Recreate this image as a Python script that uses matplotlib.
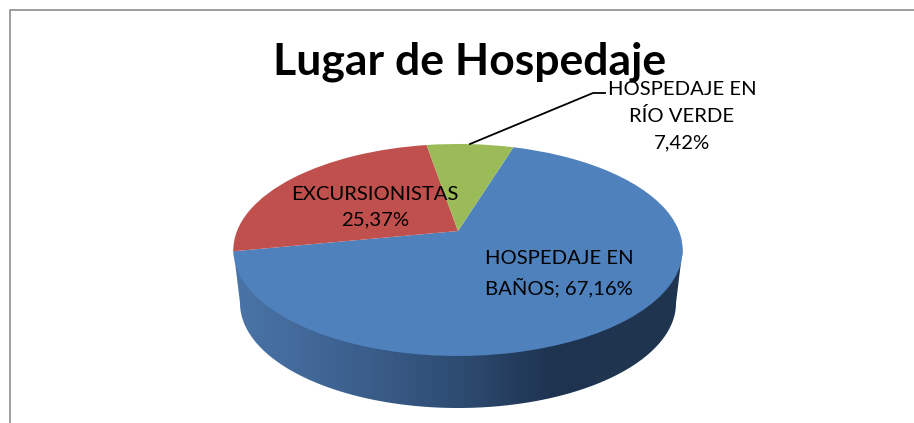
"""Lugar de Hospedaje: pie with a fake 3D look."""

import matplotlib

matplotlib.use("Agg")

import matplotlib.pyplot as plt
import numpy as np
from matplotlib.colors import LinearSegmentedColormap
from matplotlib.patches import Polygon
from matplotlib.transforms import Transform

TITLE = "Lugar de Hospedaje"
CATEGORIES = ["HOSPEDAJE EN BAÑOS", "EXCURSIONISTAS", "HOSPEDAJE EN RÍO VERDE"]
SHARES = [67.16, 25.37, 7.42]
LABELS = [
    "HOSPEDAJE EN\nBAÑOS; 67,16%",
    "EXCURSIONISTAS\n25,37%",
    "HOSPEDAJE EN\nRÍO VERDE\n7,42%",
]
COLORS = ["#4f81bd", "#c0504d", "#9bbb59"]


class TiltTransform(Transform):
    """Unit circle to pixel coordinates, with the far side shrunk."""

    input_dims = 2
    output_dims = 2
    has_inverse = False

    def __init__(self, cx, cy, a, b, k):
        super().__init__()
        self.cx, self.cy, self.a, self.b, self.k = cx, cy, a, b, k

    def transform_non_affine(self, values):
        values = np.asarray(values)
        w = 1 + self.k * values[:, 1]
        return np.column_stack(
            [self.cx + self.a * values[:, 0] / w, self.cy - self.b * values[:, 1] / w]
        )


def main():
    plt.rcParams["font.family"] = ["Lato", "DejaVu Sans"]

    fig = plt.figure(figsize=(9.14, 4.23), dpi=100)
    ax = fig.add_axes([0, 0, 1, 1])

    wedges, _ = ax.pie(SHARES, colors=COLORS, startangle=72.9, counterclock=False)
    tilt = TiltTransform(458, 231, 221, 102.6, 0.179)
    for wedge in wedges:
        wedge.set_transform(tilt + ax.transData)
        wedge.set_zorder(3)

    # side wall, only the blue slice shows at the front
    phi = np.linspace(np.pi, 0, 200)
    upper = np.column_stack([458 + 225 * np.cos(phi), 246 + 106 * np.sin(phi)])
    lower = np.column_stack([458 + 218 * np.cos(phi), 303 + 105 * np.sin(phi)])
    wall = Polygon(np.vstack([upper, lower[::-1]]), closed=True, transform=ax.transData)
    wall_cmap = LinearSegmentedColormap.from_list(
        "wall",
        [(0, "#4a75a8"), (0.22, "#3f6493"), (0.5, "#2e4c72"), (0.71, "#1e3350"), (1, "#20364f")],
    )
    image = ax.imshow(
        np.linspace(0, 1, 256).reshape(1, -1),
        cmap=wall_cmap,
        extent=[233, 683, 408, 246],
        aspect="auto",
        zorder=2,
    )
    image.set_clip_path(wall)

    ax.set_aspect("auto")
    ax.set_xlim(0, 914)
    ax.set_ylim(423, 0)
    ax.set_axis_off()

    # chart area border, cut by the page on the right and at the bottom
    ax.plot([9.5, 9.5, 914], [423, 10.5, 10.5], color="#8e8e8e", lw=1.2, zorder=1)

    # leader line for the small slice
    ax.plot([470, 593, 605], [144, 93, 93], color="black", lw=1.3, zorder=4)

    ax.text(469.5, 62, TITLE, fontsize=32, fontweight="bold", ha="center", va="center", zorder=5)
    ax.text(559, 274, LABELS[0], fontsize=14.6, ha="center", va="center", linespacing=1.62, zorder=5)
    ax.text(375, 207.5, LABELS[1], fontsize=14.6, ha="center", va="center", linespacing=1.62, zorder=5)
    ax.text(682, 116, LABELS[2], fontsize=14.6, ha="center", va="center", linespacing=1.62, zorder=5)

    fig.savefig("out.png", dpi=100)
    plt.close(fig)


if __name__ == "__main__":
    main()
